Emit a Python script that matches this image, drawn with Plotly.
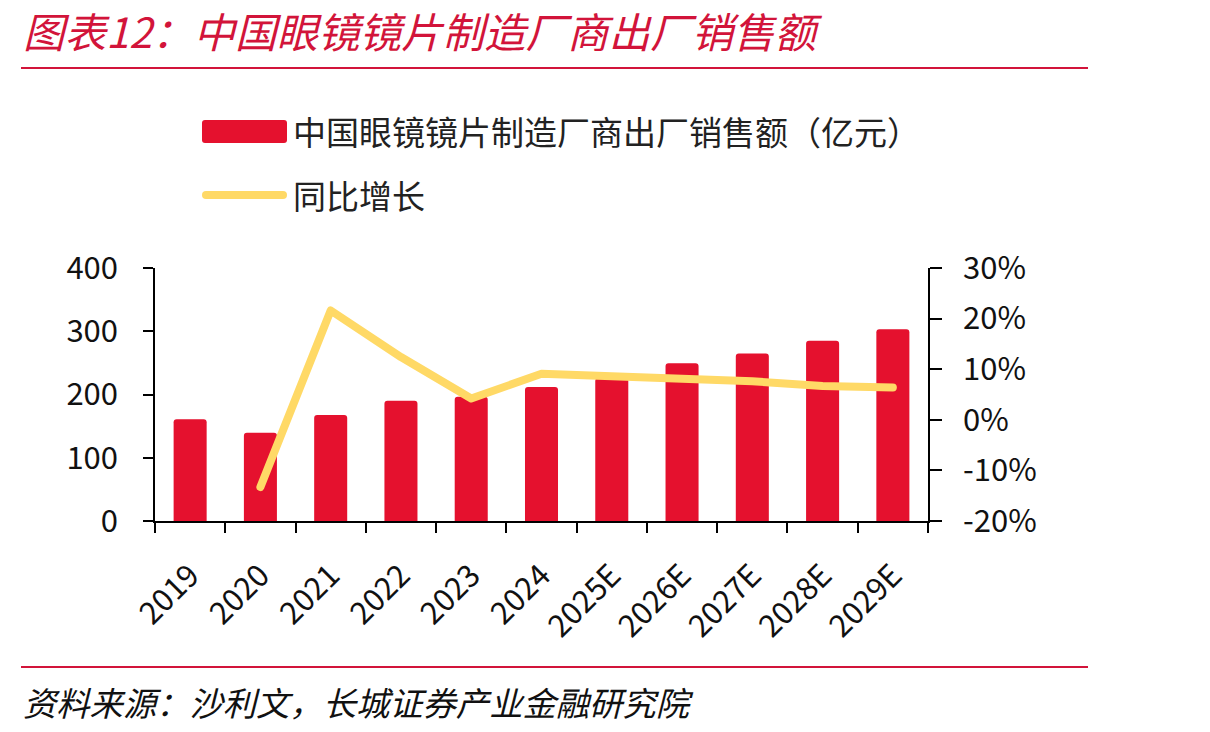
import plotly.graph_objects as go

categories = ["2019", "2020", "2021", "2022", "2023", "2024",
              "2025E", "2026E", "2027E", "2028E", "2029E"]
sales = [161, 139.5, 167.5, 190, 196.5, 212, 226, 249.5, 265, 285, 303]
growth = [None, -13.3, 21.6, 12.4, 4.2, 9.1, 8.6, 8.1, 7.6, 6.7, 6.4]
left_ticks = [0, 100, 200, 300, 400]
right_tickvals = [-20, -10, 0, 10, 20, 30]
right_ticktext = ["-20%", "-10%", "0%", "10%", "20%", "30%"]

title_text = "图表12：中国眼镜镜片制造厂商出厂销售额"
source_text = "资料来源：沙利文，长城证券产业金融研究院"
bar_name = "中国眼镜镜片制造厂商出厂销售额（亿元）"
line_name = "同比增长"

W, H = 1210, 732
L, R, T, B = 155, 928, 268, 521
FONT = "Noto Sans CJK SC"
RED = "#D2143A"
BAR = "#E5112E"
YEL = "#FFD966"


def px_x(px):
    return (px - L) / (R - L)


def px_y(py):
    return (B - py) / (B - T)


fig = go.Figure()
fig.add_trace(go.Bar(x=categories, y=sales, name=bar_name, marker_color=BAR,
                     marker_line_width=0, yaxis="y", showlegend=False))
fig.add_trace(go.Scatter(x=categories, y=growth, name=line_name, mode="lines",
                         line=dict(color=YEL, width=8), yaxis="y2",
                         showlegend=False))

yfont = dict(family=FONT, size=31, color="#111111")
xfont = dict(family=FONT, size=31, color="#111111")
fig.update_layout(
    width=W, height=H,
    margin=dict(l=L, r=W - R, t=T, b=H - B, autoexpand=False),
    plot_bgcolor="white", paper_bgcolor="white",
    bargap=0.53, barcornerradius=3,
    xaxis=dict(type="category", showline=True, linecolor="#000", linewidth=1.6,
               ticks="outside", tickson="boundaries", ticklen=10, tickwidth=1.6,
               tickcolor="#000", tickangle=-45, tickfont=xfont,
               showgrid=False, automargin=False, ticklabelstandoff=22,
               range=[-0.5, 10.5]),
    yaxis=dict(range=[0, 400], tickvals=left_ticks, showline=True,
               linecolor="#000", linewidth=1.6, ticks="outside", ticklen=10,
               tickwidth=1.6, tickcolor="#000", tickfont=yfont,
               showgrid=False, zeroline=False, automargin=False,
               ticklabelstandoff=19),
    yaxis2=dict(range=[-20, 30], tickvals=right_tickvals, ticktext=right_ticktext,
                overlaying="y", side="right", showline=True, linecolor="#000",
                linewidth=1.6, ticks="outside", ticklen=12, tickwidth=1.6,
                tickcolor="#000", tickfont=yfont, showgrid=False,
                zeroline=False, automargin=False, ticklabelstandoff=15),
)

shapes = []
# red separator lines
for yy in (68, 667):
    shapes.append(dict(type="line", xref="paper", yref="paper",
                       x0=px_x(21), x1=px_x(1088), y0=px_y(yy), y1=px_y(yy),
                       line=dict(color=RED, width=2)))


def rounded_rect(x0, y0, x1, y1, r):
    # pixel coords -> paper path with quadratic corners
    def p(x, y):
        return f"{px_x(x):.6f},{px_y(y):.6f}"
    return (f"M {p(x0 + r, y0)} L {p(x1 - r, y0)} Q {p(x1, y0)} {p(x1, y0 + r)} "
            f"L {p(x1, y1 - r)} Q {p(x1, y1)} {p(x1 - r, y1)} "
            f"L {p(x0 + r, y1)} Q {p(x0, y1)} {p(x0, y1 - r)} "
            f"L {p(x0, y0 + r)} Q {p(x0, y0)} {p(x0 + r, y0)} Z")


shapes.append(dict(type="path", xref="paper", yref="paper",
                   path=rounded_rect(202, 120, 287, 143, 3),
                   fillcolor=BAR, line=dict(width=0)))
shapes.append(dict(type="path", xref="paper", yref="paper",
                   path=rounded_rect(202, 191, 287, 199, 4),
                   fillcolor=YEL, line=dict(width=0)))
fig.update_layout(shapes=shapes)

anns = [
    dict(text=title_text, x=px_x(21), y=px_y(30), xref="paper", yref="paper",
         xanchor="left", yanchor="middle", showarrow=False,
         font=dict(family=FONT, size=41.5, color=RED, style="italic")),
    dict(text=source_text, x=px_x(21), y=px_y(701), xref="paper", yref="paper",
         xanchor="left", yanchor="middle", showarrow=False,
         font=dict(family=FONT, size=33.3, color="#111111", style="italic")),
    dict(text=bar_name, x=px_x(291), y=px_y(131), xref="paper", yref="paper",
         xanchor="left", yanchor="middle", showarrow=False,
         font=dict(family=FONT, size=33, color="#222222")),
    dict(text=line_name, x=px_x(291), y=px_y(195), xref="paper", yref="paper",
         xanchor="left", yanchor="middle", showarrow=False,
         font=dict(family=FONT, size=33, color="#222222")),
]
fig.update_layout(annotations=anns)

post = """
function rc(){document.querySelectorAll('.scatterlayer .js-line').forEach(function(p){
p.style.strokeLinecap='round';p.style.strokeLinejoin='round';});}
rc(); setTimeout(rc, 50); setTimeout(rc, 300);
"""
fig.write_html("out.html", post_script=post)
